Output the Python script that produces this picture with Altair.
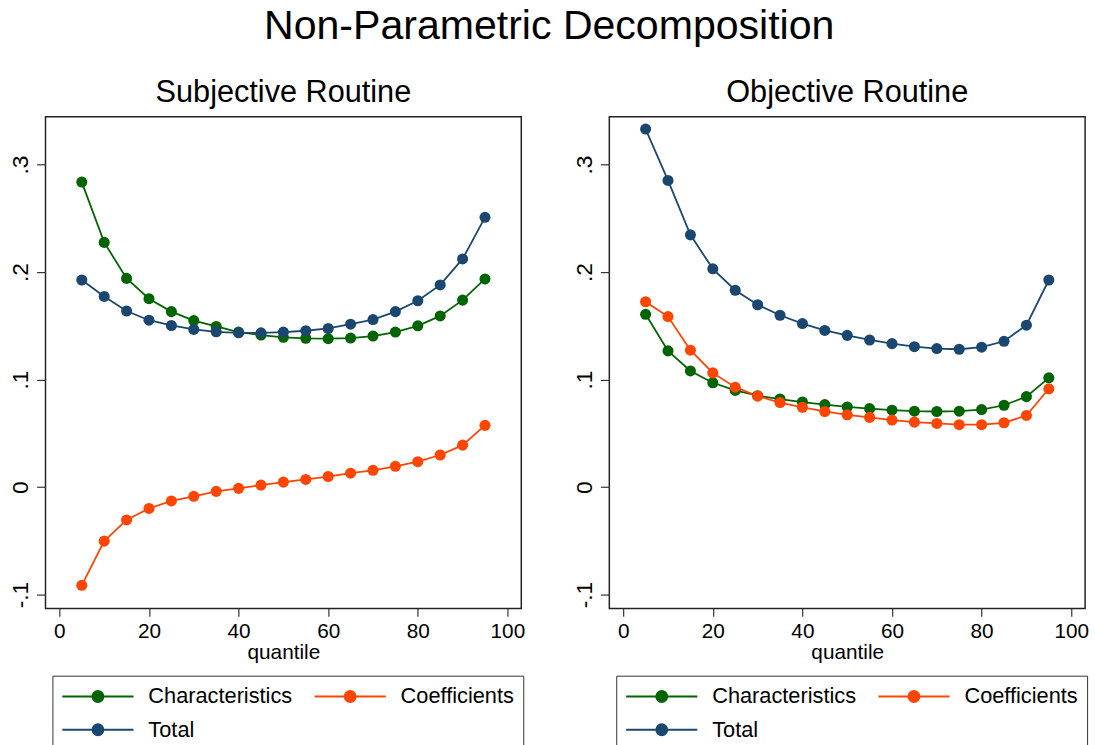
import altair as alt
import pandas as pd

quantiles = [5, 10, 15, 20, 25, 30, 35, 40, 45, 50, 55, 60, 65, 70, 75, 80, 85, 90, 95]
series_names = ["Characteristics", "Coefficients", "Total"]
series_colors = ["#006400", "#FF4500", "#1A476F"]

subj_char = [0.2837, 0.2276, 0.1941, 0.1752, 0.1632, 0.1549, 0.1494, 0.1442, 0.1414, 0.1393,
             0.1384, 0.1380, 0.1386, 0.1405, 0.1442, 0.1500, 0.1592, 0.1739, 0.1936]
subj_coef = [-0.0914, -0.0503, -0.0306, -0.0199, -0.0129, -0.0086, -0.0040, -0.0012, 0.0018, 0.0046,
             0.0071, 0.0098, 0.0129, 0.0156, 0.0193, 0.0236, 0.0298, 0.0390, 0.0574]
subj_total = [0.1926, 0.1773, 0.1638, 0.1552, 0.1503, 0.1466, 0.1444, 0.1435, 0.1435, 0.1442,
              0.1454, 0.1475, 0.1515, 0.1558, 0.1632, 0.1733, 0.1880, 0.2122, 0.2509]

obj_char = [0.1607, 0.1267, 0.1080, 0.0970, 0.0899, 0.0850, 0.0819, 0.0791, 0.0767, 0.0745,
            0.0730, 0.0715, 0.0706, 0.0703, 0.0706, 0.0721, 0.0761, 0.0841, 0.1016]
obj_coef = [0.1724, 0.1586, 0.1273, 0.1062, 0.0929, 0.0846, 0.0786, 0.0742, 0.0703, 0.0672,
            0.0648, 0.0623, 0.0604, 0.0592, 0.0580, 0.0580, 0.0598, 0.0666, 0.0914]
obj_total = [0.3330, 0.2852, 0.2346, 0.2030, 0.1831, 0.1696, 0.1598, 0.1521, 0.1457, 0.1411,
             0.1368, 0.1334, 0.1306, 0.1288, 0.1282, 0.1301, 0.1356, 0.1506, 0.1926]

x_ticks = [0, 20, 40, 60, 80, 100]
y_ticks = [-0.1, 0, 0.1, 0.2, 0.3]

FONT = "Liberation Sans"
# legend symbol: line with a dot in the middle
SYMBOL = ("M-3.27,0L3.27,0M0.5,0A0.5,0.5,0,1,1,-0.5,0"
          "A0.5,0.5,0,1,1,0.5,0Z")

Y_LABEL_EXPR = ("datum.value == 0 ? '0' : (datum.value < 0 ? '-' : '') + "
                "replace(format(abs(datum.value), '.1f'), '0.', '.')")


def make_df(char, coef, total):
    rows = []
    for name, vals in zip(series_names, [char, coef, total]):
        for q, v in zip(quantiles, vals):
            rows.append({"quantile": q, "value": v, "series": name})
    return pd.DataFrame(rows)


def panel(title, char, coef, total):
    df = make_df(char, coef, total)
    base = alt.Chart(df).encode(
        x=alt.X("quantile:Q",
                scale=alt.Scale(domain=[-3.1, 103.1], nice=False, zero=False),
                axis=alt.Axis(values=x_ticks, title="quantile", grid=False, domain=False,
                              tickSize=8, tickColor="#333333", tickWidth=1.2,
                              labelFontSize=21, labelFont=FONT, labelColor="black",
                              labelPadding=4, titleFontSize=21, titleFont=FONT,
                              titleFontWeight="normal", titleColor="black", titlePadding=1)),
        y=alt.Y("value:Q",
                scale=alt.Scale(domain=[-0.1129, 0.3444], nice=False, zero=False),
                axis=alt.Axis(values=y_ticks, title=None, grid=False, domain=False,
                              tickSize=9, tickColor="#333333", tickWidth=1.2,
                              labelAngle=270, labelFontSize=23, labelFont=FONT,
                              labelColor="black", labelPadding=4,
                              labelExpr=Y_LABEL_EXPR)),
        color=alt.Color("series:N",
                        scale=alt.Scale(domain=series_names, range=series_colors),
                        legend=alt.Legend(title=None, orient="none", legendX=7, legendY=565,
                                          direction="horizontal", columns=2,
                                          symbolType=SYMBOL, symbolSize=484,
                                          symbolOffset=25, labelOffset=39, symbolStrokeWidth=2,
                                          labelFontSize=22, labelFont=FONT, labelColor="black",
                                          labelLimit=400, columnPadding=18, rowPadding=10.6,
                                          padding=9, strokeColor="#333333")),
    )
    lines = base.mark_line(strokeWidth=1.8)
    pts = base.mark_circle(size=125, opacity=1)
    return alt.layer(lines, pts).properties(
        width=481, height=497,
        title=alt.TitleParams(title, fontSize=31, font=FONT, fontWeight="normal",
                              color="black", baseline="alphabetic", offset=-16),
    )


left = panel("Subjective Routine", subj_char, subj_coef, subj_total)
right = panel("Objective Routine", obj_char, obj_coef, obj_total)

chart = alt.hconcat(left, right, spacing=47).resolve_scale(color="independent").resolve_legend(
    color="independent"
).properties(
    title=alt.TitleParams("Non-Parametric Decomposition", fontSize=41.5, font=FONT,
                          fontWeight="normal", color="black", anchor="middle", offset=29),
    padding={"left": 9, "top": 2, "right": 5, "bottom": -8},
    background="white",
).configure_view(stroke="#222222", strokeWidth=1.5)

chart.save("out.html", embed_options={"renderer": "svg", "actions": False})
